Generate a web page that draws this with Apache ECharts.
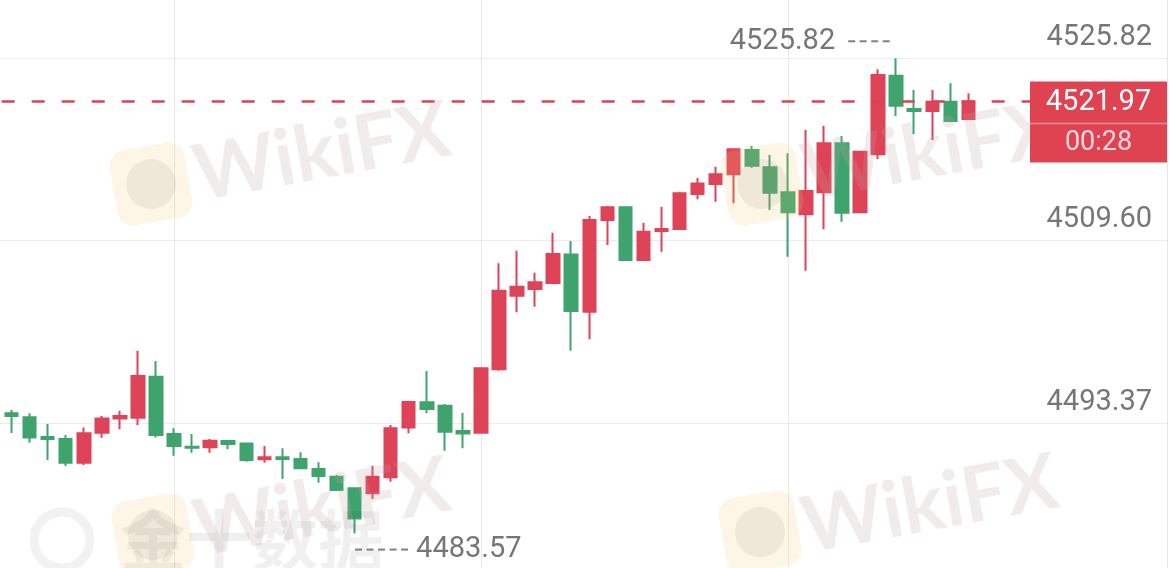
<!DOCTYPE html>
<html><head><meta charset="utf-8">
<script src="https://cdn.jsdelivr.net/npm/echarts@6/dist/echarts.min.js"></script>
<style>html,body{margin:0;padding:0;background:#fff}#c{width:1170px;height:568px}</style>
</head><body><div id="c"></div>
<script>
// ---- data ----
const categories = ['10:00','10:01','10:02','10:03','10:04','10:05','10:06','10:07','10:08','10:09',
  '10:10','10:11','10:12','10:13','10:14','10:15','10:16','10:17','10:18','10:19',
  '10:20','10:21','10:22','10:23','10:24','10:25','10:26','10:27','10:28','10:29',
  '10:30','10:31','10:32','10:33','10:34','10:35','10:36','10:37','10:38','10:39',
  '10:40','10:41','10:42','10:43','10:44','10:45','10:46','10:47','10:48','10:49',
  '10:50','10:51','10:52','10:53'];
const leadSlots = ['09:59'];
const futureSlots = ['10:54','10:55','10:56','10:57','10:58','10:59','11:00','11:01','11:02','11:03','11:04'];
const opens = [4494.26,4493.90,4492.15,4491.97,4489.87,4492.53,4493.81,4493.87,4497.51,4492.42,
  4491.29,4491.24,4491.80,4491.57,4490.17,4490.35,4490.20,4489.31,4488.62,4487.59,
  4487.15,4488.57,4493.01,4495.24,4494.93,4492.69,4492.53,4498.17,4504.71,4505.31,
  4505.84,4508.38,4503.29,4511.44,4512.57,4507.89,4510.47,4510.64,4513.76,4514.64,
  4515.51,4517.67,4516.13,4513.91,4511.95,4513.91,4518.26,4512.13,4517.29,4524.27,
  4521.31,4521.14,4521.96,4520.42];
const closes = [4494.02,4492.12,4491.97,4489.87,4492.48,4493.81,4494.02,4497.58,4492.33,4491.35,
  4491.20,4491.82,4491.53,4490.11,4490.35,4490.20,4489.37,4488.68,4487.44,4484.92,
  4488.62,4492.93,4495.26,4494.64,4492.62,4492.46,4498.26,4505.16,4505.51,4505.91,
  4508.42,4503.35,4511.44,4512.57,4507.89,4510.40,4510.64,4513.82,4514.69,4515.51,
  4517.73,4516.27,4513.87,4512.13,4514.02,4518.26,4512.09,4517.52,4524.34,4521.61,
  4521.14,4521.96,4520.25,4521.97];
const lows = [4492.51,4491.65,4490.11,4489.57,4489.66,4492.09,4492.84,4493.22,4492.12,4490.49,
  4490.76,4490.76,4491.06,4489.96,4489.87,4488.42,4489.28,4488.09,4487.38,4483.57,
  4486.64,4488.18,4492.48,4494.26,4490.93,4491.15,4492.48,4498.05,4503.24,4503.74,
  4505.73,4499.82,4500.84,4509.22,4507.84,4507.84,4508.63,4510.62,4513.28,4513.07,
  4512.93,4516.09,4512.33,4508.18,4506.94,4510.62,4511.29,4512.11,4516.87,4520.69,
  4519.06,4518.56,4520.13,4520.42];
const highs = [4494.55,4494.26,4493.31,4492.33,4493.01,4494.02,4494.49,4499.82,4498.91,4492.93,
  4492.42,4491.97,4491.89,4491.59,4491.35,4491.15,4490.79,4489.90,4488.77,4487.68,
  4489.60,4493.22,4495.38,4498.02,4495.09,4494.29,4498.31,4507.59,4508.71,4506.76,
  4510.32,4509.58,4511.80,4512.69,4512.64,4511.20,4512.63,4513.96,4515.18,4516.18,
  4517.76,4518.02,4517.22,4517.37,4519.45,4519.83,4518.91,4517.61,4524.84,4525.82,
  4523.00,4523.00,4523.60,4522.71];
const yTickValues = [4493.37, 4509.60, 4525.82];
const lastPrice = 4521.97;
const countdownText = '00:28';

// ---- styles ----
const UP = '#DE4357', DOWN = '#3FA36E', BOX = '#DF4352';
const LABEL_GREY = '#767676';
const FONT = 'Roboto, "Liberation Sans", sans-serif';

const axisData = leadSlots.concat(categories, futureSlots);
const lastDataIdx = leadSlots.length + categories.length - 1;
const seriesData = leadSlots.map(() => ['-','-','-','-']).concat(
  categories.map((c, i) => [opens[i], closes[i], lows[i], highs[i]]));

const dashRich = { d: { width: 7, height: 2, backgroundColor: '#808080' }, g: { width: 4.5 },
  gap: { width: 13 }, gap2: { width: 8 },
  v: { fontSize: 29, color: LABEL_GREY, fontFamily: FONT } };

const chart = echarts.init(document.getElementById('c'), null, { renderer: 'canvas' });
chart.setOption({
  animation: false,
  backgroundColor: '#fff',
  grid: { left: -6.5, top: 0, width: 1173.5, height: 568, containLabel: false, outerBoundsMode: 'none' },
  xAxis: {
    type: 'category', data: axisData, boundaryGap: false,
    axisLine: { show: false }, axisTick: { show: false }, axisLabel: { show: false },
    splitLine: { show: true, interval: (idx) => idx % 17 === 10 && idx <= lastDataIdx,
      lineStyle: { color: '#e8e8e8', width: 1 } }
  },
  yAxis: {
    type: 'value', position: 'right', scale: true, min: 4480.51, max: 4531.0,
    axisLine: { show: true, lineStyle: { color: '#e6e6e6', width: 1 } },
    axisTick: { show: false, customValues: yTickValues },
    axisLabel: { inside: true, margin: 15, customValues: yTickValues, verticalAlign: 'bottom',
      padding: [0, 0, 6, 0], fontSize: 29, color: LABEL_GREY, fontFamily: FONT,
      formatter: (v) => v.toFixed(2) },
    splitLine: { show: true, lineStyle: { color: '#ececec', width: 1 } }
  },
  series: [{
    type: 'candlestick', data: seriesData, barWidth: 13,
    itemStyle: { color: UP, color0: DOWN, borderColor: UP, borderColor0: DOWN, borderWidth: 2 },
    markLine: {
      silent: true, symbol: ['none', 'none'], animation: false,
      label: { show: false },
      lineStyle: { color: '#D94452', type: [13, 17], dashOffset: 21.8, width: 2.5 },
      data: [{ yAxis: lastPrice }]
    },
    markPoint: {
      symbol: 'circle', symbolSize: 1, itemStyle: { color: 'rgba(0,0,0,0)' }, animation: false,
      data: [
        { type: 'max', valueDim: 'highest',
          label: { show: true, position: 'left', distance: 6, offset: [0, -17], rich: dashRich,
            formatter: (p) => '{v|' + p.value.toFixed(2) + '}{gap| }{d| }{g| }{d| }{g| }{d| }{g| }{d| }' } },
        { type: 'min', valueDim: 'lowest',
          label: { show: true, position: 'right', distance: 0, offset: [0, 16], rich: dashRich,
            formatter: (p) => '{d| }{g| }{d| }{g| }{d| }{g| }{d| }{g| }{d| }{gap2| }{v|' + p.value.toFixed(2) + '}' } }
      ]
    }
  }]
});

// price tag + watermarks
const py = chart.convertToPixel({ yAxisIndex: 0 }, lastPrice);
function watermark(cx, cy, tx, ty) {
  return [
    { type: 'rect', x: cx, y: cy, rotation: 0.17, z: 100, silent: true,
      shape: { x: -38, y: -38, width: 76, height: 76, r: 16 },
      style: { fill: 'rgba(245,200,110,0.18)' } },
    { type: 'circle', x: cx, y: cy, z: 100, silent: true,
      shape: { cx: 0, cy: 0, r: 25 }, style: { fill: 'rgba(120,120,120,0.10)' } },
    { type: 'text', x: tx, y: ty, rotation: 0.18, z: 100, silent: true,
      style: { text: 'WikiFX', fontSize: 78, fontWeight: 'bold', fontFamily: 'Lato, "Open Sans", sans-serif',
        fill: 'rgba(190,168,162,0.22)', align: 'center', verticalAlign: 'middle' } }
  ];
}
const g = [].concat(
  watermark(151, 184, 322, 153),
  watermark(762, 184, 930, 152),
  watermark(153, 535, 322, 508),
  watermark(760, 532, 930, 505),
  [
    { type: 'circle', x: 62, y: 540, z: 99, silent: true, shape: { cx: 0, cy: 0, r: 28 },
      style: { fill: 'none', stroke: 'rgba(0,0,0,0.05)', lineWidth: 9 } },
    { type: 'text', x: 120, y: 540, z: 99, silent: true,
      style: { text: '金十数据', fontSize: 66, fontWeight: 'bold', fontFamily: '"Noto Sans CJK SC", sans-serif',
        fill: 'rgba(0,0,0,0.06)', align: 'left', verticalAlign: 'middle' } },
    { type: 'rect', z: 110, silent: true, shape: { x: 1030, y: py - 20, width: 137, height: 81 },
      style: { fill: BOX } },
    { type: 'line', z: 111, silent: true, shape: { x1: 1030, y1: py + 22, x2: 1167, y2: py + 22 },
      style: { stroke: '#EC8A94', lineWidth: 1.5 } },
    { type: 'text', z: 112, silent: true, x: 1098.5, y: py + 1,
      style: { text: lastPrice.toFixed(2), fontSize: 29, fontFamily: FONT, fill: '#ffffff',
        align: 'center', verticalAlign: 'middle' } },
    { type: 'text', z: 112, silent: true, x: 1098.5, y: py + 42,
      style: { text: countdownText, fontSize: 27, fontFamily: FONT, fill: '#F9D9DC',
        align: 'center', verticalAlign: 'middle' } }
  ]
);
chart.setOption({ graphic: g });
</script>
</body></html>
